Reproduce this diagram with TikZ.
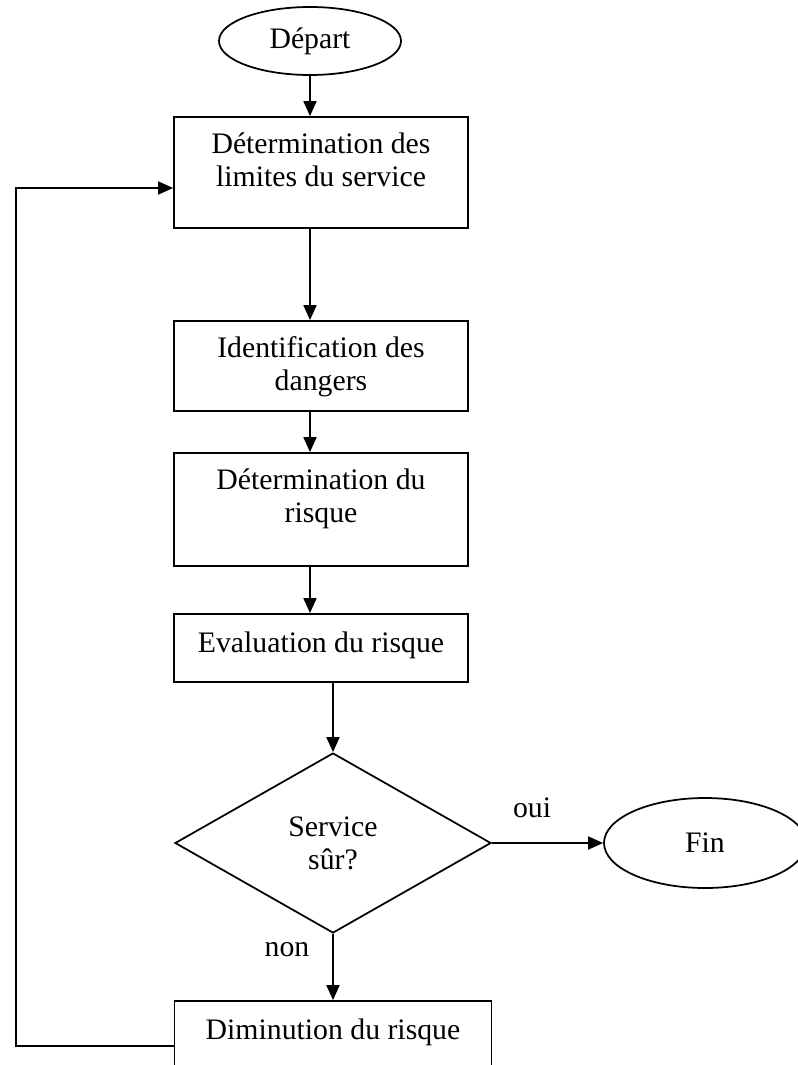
\documentclass[tikz,border=0pt]{standalone}
\usepackage{fontspec}
\setmainfont{Liberation Serif}
\usetikzlibrary{shapes.geometric,arrows.meta,positioning}

\tikzset{
  boite/.style={draw, line width=0.7pt, minimum width=117.6pt, inner sep=0pt},
  rond/.style={draw, ellipse, line width=0.7pt, inner sep=0pt},
  texte/.style={align=center, inner sep=0pt, execute at begin node=\strut},
  fleche/.style={line width=0.7pt, -{Triangle[length=6pt,width=5.2pt]}},
}

\begin{document}
\begin{tikzpicture}[x=0.4pt, y=-0.4pt, font=\fontsize{11.9}{13.2}\selectfont]
  \clip (0,0) rectangle (798,1065);
  % depart et colonne des etapes
  \node[rond, minimum width=72.8pt, minimum height=27.2pt] (depart) at (310,41) {Départ};
  \node[boite, minimum height=44.4pt] (limites) at (321,172.5) {};
  \node[texte, below=6.4pt of limites.north] (limitestxt) {Détermination des\\limites du service};
  \node[boite, minimum height=36pt] (dangers) at (321,366) {};
  \node[texte, below=6.4pt of dangers.north] (dangerstxt) {Identification des\\dangers};
  \node[boite, minimum height=45.2pt] (risque) at (321,509.5) {};
  \node[texte, below=6.4pt of risque.north] (risquetxt) {Détermination du\\risque};
  \node[boite, minimum height=27.2pt] (evaluation) at (321,648) {};
  \node[texte, below=6.4pt of evaluation.north] (evaluationtxt) {Evaluation du risque};
  % test
  \node[diamond, draw, line width=0.7pt, align=center, inner sep=0pt,
        minimum width=126.4pt, minimum height=72pt] (decision) at (333,843) {Service\\sûr?};
  \node[rond, minimum width=80.8pt, minimum height=36pt] (fin) at (705,843) {Fin};
  \node[boite, minimum width=126.8pt, minimum height=36pt] (diminution) at (333,1046) {};
  \node[texte, below=6.4pt of diminution.north] (diminutiontxt) {Diminution du risque};
  \node[anchor=base, inner sep=0pt] (oui) at (532,817) {oui};
  \node[anchor=base, inner sep=0pt] (non) at (287,956) {non};
  \coordinate (gauche) at (16,188);

  \draw[fleche] (depart) -- (depart |- limites.north);
  \draw[fleche] (limites.south -| depart) -- (dangers.north -| depart);
  \draw[fleche] (dangers.south -| depart) -- (risque.north -| depart);
  \draw[fleche] (risque.south -| depart) -- (evaluation.north -| depart);
  \draw[fleche] (evaluation.south -| decision) -- (decision.north);
  \draw[fleche] (decision.east) -- (fin.west);
  \draw[fleche] (decision.south) -- (diminution.north);
  \draw[fleche] (diminution.west) -| (gauche) -- (gauche -| limites.west);
\end{tikzpicture}
\end{document}
